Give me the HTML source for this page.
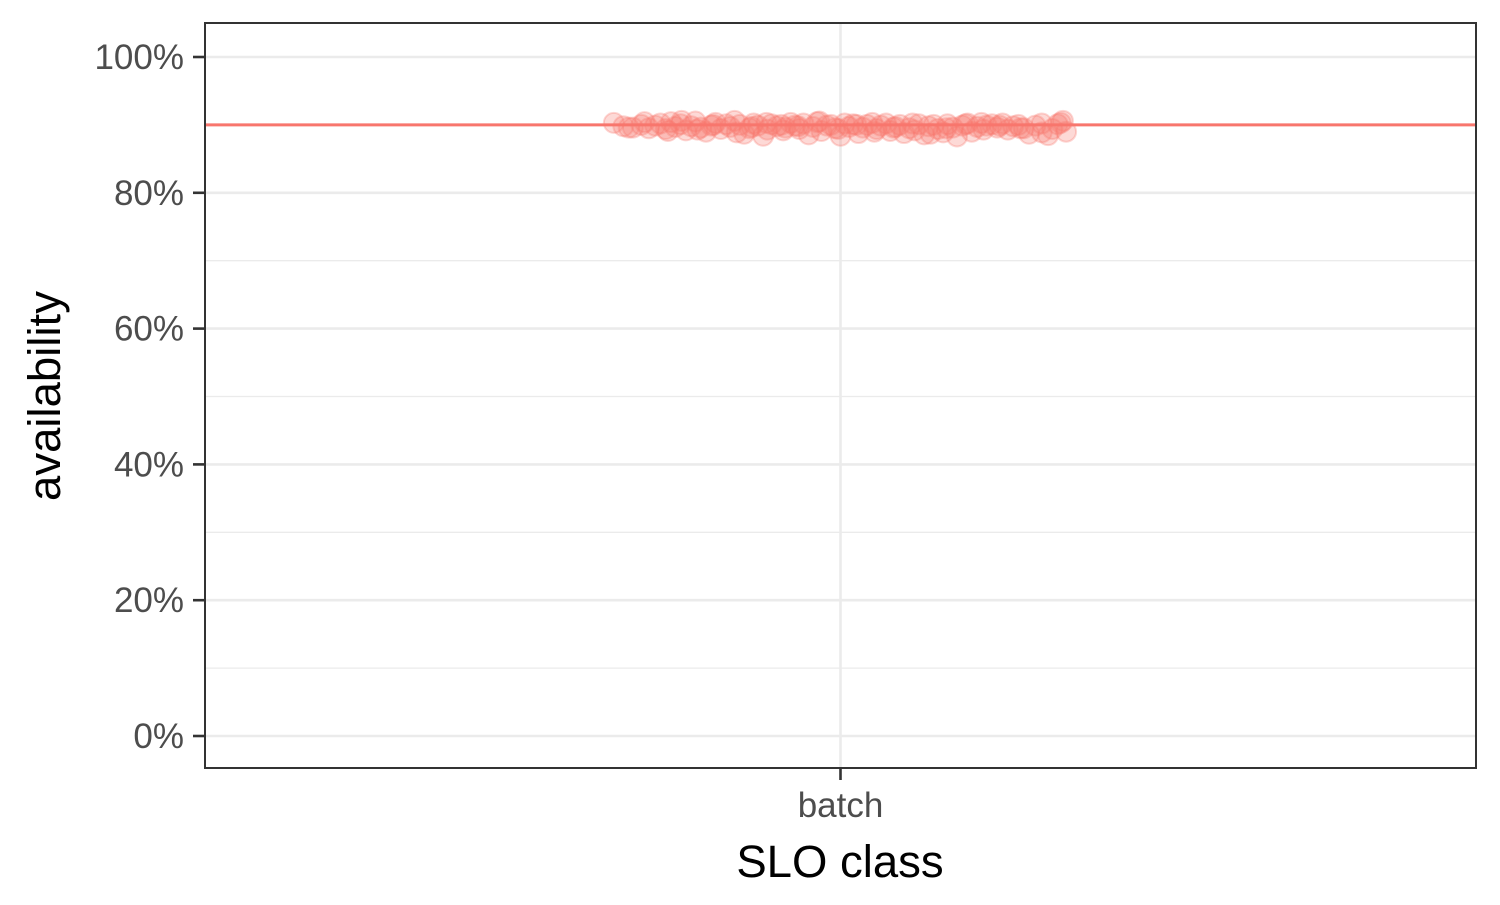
<!DOCTYPE html>
<html><head><meta charset="utf-8"><style>
body{margin:0;background:#fff;}
svg text{font-family:"Liberation Sans",sans-serif;}
</style></head><body>
<svg id="chart" width="1500" height="900" xmlns="http://www.w3.org/2000/svg">
<g id="grid"></g>
<g id="points"></g>
<line id="target" stroke="#F8766D" stroke-width="3"/>
<rect x="205" y="23" width="1271" height="745" fill="none" stroke="#333" stroke-width="2"/>
<g id="axes"></g>
<text x="840" y="877" font-size="45.5" text-anchor="middle" fill="#000">SLO class</text>
<text transform="translate(60,396) rotate(-90)" font-size="45.5" text-anchor="middle" fill="#000">availability</text>
</svg>
<script>
const categories = ["batch"];
const yTicks = [0, 20, 40, 60, 80, 100];
const yTickLabels = ["0%", "20%", "40%", "60%", "80%", "100%"];
const target = 90;
const jitter = [-0.214,-0.205,-0.196,-0.188,-0.181,-0.175,-0.17,-0.165,-0.16,-0.156,-0.151,-0.146,-0.141,-0.137,-0.132,-0.127,-0.122,-0.118,-0.113,-0.108,-0.104,-0.1,-0.095,-0.091,-0.086,-0.082,-0.078,-0.073,-0.069,-0.065,-0.06,-0.056,-0.052,-0.047,-0.043,-0.039,-0.035,-0.03,-0.026,-0.022,-0.018,-0.013,-0.009,-0.005,0.0,0.004,0.008,0.012,0.017,0.021,0.025,0.03,0.034,0.038,0.043,0.047,0.052,0.056,0.06,0.065,0.07,0.074,0.079,0.083,0.088,0.092,0.097,0.101,0.106,0.11,0.115,0.12,0.124,0.129,0.133,0.138,0.143,0.148,0.153,0.158,0.163,0.168,0.173,0.178,0.184,0.19,0.196,0.2,0.205,0.21,0.213,
-0.2,-0.185,-0.163,-0.15,-0.135,-0.12,-0.098,-0.084,-0.07,-0.054,-0.04,-0.02,-0.002,0.015,0.032,0.05,0.068,0.085,0.1,0.118,0.135,0.15,0.17,0.19,0.208];
const avail = [90.3,89.8,89.6,90.0,89.5,89.9,90.2,89.4,90.4,89.7,90.1,89.2,89.8,90.5,89.6,89.0,89.9,90.3,89.4,90.1,89.7,90.6,90.0,88.7,89.5,90.2,89.9,88.4,89.3,90.1,89.8,90.0,89.6,90.3,89.9,89.4,90.2,88.6,89.7,90.4,89.1,89.9,90.0,89.5,88.4,90.2,89.7,90.1,88.8,89.6,90.0,90.3,89.4,89.9,90.2,89.1,89.7,90.0,88.8,89.5,89.2,90.1,88.6,89.8,90.0,89.4,88.9,90.1,89.6,88.3,89.9,90.2,89.0,89.7,90.3,89.9,90.1,89.6,90.2,89.3,89.8,90.0,89.5,88.7,89.9,90.2,88.5,89.4,90.1,90.6,89.0,
89.6,90.4,89.1,90.6,89.3,90.0,88.9,89.7,90.3,89.2,89.8,90.5,89.4,90.0,89.0,89.6,90.2,88.7,89.5,90.1,89.3,89.9,89.5,88.9,90.3];
const ns="http://www.w3.org/2000/svg";
const X0=205,X1=1476;
function xScale(i,j){return X0+((i+1+j)-0.4)/1.2*(X1-X0);}
function yScale(v){return 736-v*6.79;}
function mk(tag,attrs,parent){const e=document.createElementNS(ns,tag);for(const k in attrs)e.setAttribute(k,attrs[k]);parent.appendChild(e);return e;}
const grid=document.getElementById('grid'),axes=document.getElementById('axes'),pts=document.getElementById('points');
for(let k=0;k<yTicks.length-1;k++){const v=(yTicks[k]+yTicks[k+1])/2;
 const l=mk('line',{x1:X0,x2:X1,y1:yScale(v),y2:yScale(v),stroke:'#ebebeb','stroke-width':1.3},grid);
 
 }
yTicks.forEach((v,k)=>{
 const l=mk('line',{x1:X0,x2:X1,y1:yScale(v),y2:yScale(v),stroke:'#ebebeb','stroke-width':2.6},grid);
 
 
 const t=mk('line',{x1:193,x2:205,y1:yScale(v),y2:yScale(v),stroke:'#333','stroke-width':2.6},axes);
 
 
 const tx=mk('text',{x:184,y:yScale(v)+12,'font-size':35,'text-anchor':'end',fill:'#4d4d4d'},axes);
 tx.textContent=yTickLabels[k];
 
 
});
categories.forEach((c,i)=>{
 const x=xScale(i,0);
 const g=mk('line',{x1:x,x2:x,y1:23,y2:768,stroke:'#ebebeb','stroke-width':2.6},grid);
 
 
 const t=mk('line',{x1:x,x2:x,y1:768,y2:780,stroke:'#333','stroke-width':2.6},axes);
 
 
 const tx=mk('text',{x:x,y:817,'font-size':35,'text-anchor':'middle',fill:'#4d4d4d'},axes);
 tx.textContent=c;
 
 
});
avail.forEach((v,k)=>{
 const c=mk('circle',{cx:xScale(0,jitter[k]),cy:yScale(v),r:10,fill:'rgba(248,118,109,0.28)',stroke:'rgba(248,118,109,0.3)','stroke-width':2},pts);
 
 
});
const tl=document.getElementById('target');
tl.setAttribute('x1',X0);tl.setAttribute('x2',X1);tl.setAttribute('y1',yScale(target));tl.setAttribute('y2',yScale(target));
</script>
</body></html>
